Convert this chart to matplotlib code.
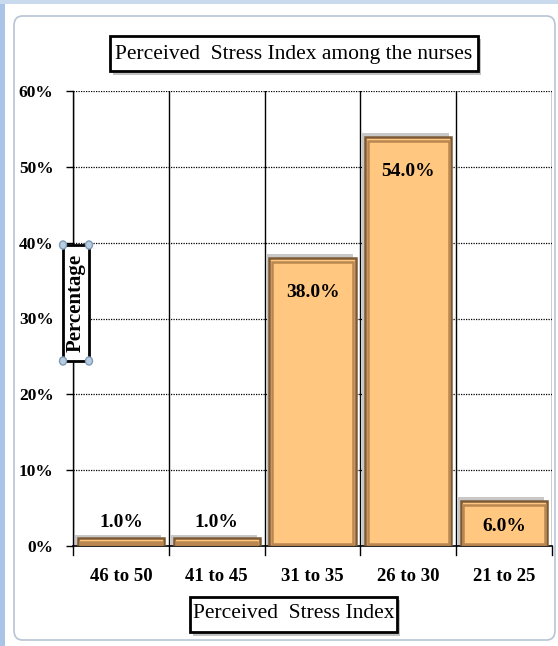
import matplotlib.pyplot as plt
from matplotlib.patches import FancyBboxPatch, Rectangle

# data
categories = ['46 to 50', '41 to 45', '31 to 35', '26 to 30', '21 to 25']
percent = [1.0, 1.0, 38.0, 54.0, 6.0]
y_ticks = [0, 10, 20, 30, 40, 50, 60]

plt.rcParams['font.family'] = ['Liberation Serif', 'DejaVu Serif']

W, H = 558, 646
fig = plt.figure(figsize=(W / 100, H / 100), dpi=100)


def px_rect(x0, y0, x1, y1, **kw):
    # rectangle given in pixel coords (origin top-left)
    r = Rectangle((x0 / W, 1 - y1 / H), (x1 - x0) / W, (y1 - y0) / H,
                  transform=fig.transFigure, **kw)
    fig.patches.append(r)
    return r


# outer chart frame
fig.patches.append(FancyBboxPatch((14 / W, 6 / H), (W - 17) / W, (H - 22) / H,
                                  boxstyle='round,pad=0,rounding_size=0.015',
                                  transform=fig.transFigure, facecolor='white',
                                  edgecolor='#b8c4d4', linewidth=1.2,
                                  zorder=-10))
px_rect(0, 0, 5, H, facecolor='#a9c4e6', edgecolor='none', zorder=-9)
px_rect(0, 0, W, 4, facecolor='#c9d9ee', edgecolor='none', zorder=-9)

ax = fig.add_axes([73 / W, 1 - 546 / H, (552 - 73) / W, (546 - 91) / H])
ax.set_zorder(1)
x = list(range(len(categories)))

# bars with bevel look
ax.bar([i - 0.03 for i in x], [p + 0.5 for p in percent], width=0.9,
       color='#c8c8c8', edgecolor='none', zorder=2)
ax.bar(x, percent, width=0.9, color='#FFC780', edgecolor='#7d5a36',
       linewidth=1.8, zorder=3)
ax.bar(x, [max(p - 0.9, 0.25) for p in percent], width=0.85, bottom=0.3,
       color='none', edgecolor='#b9874f', linewidth=1.8, zorder=4)

for i, p in enumerate(percent):
    if p < 5:
        ax.text(i, p + 1.0, f'{p:.1f}%', ha='center', va='bottom',
                fontsize=14, fontweight='bold', zorder=5)
    elif p < 10:
        ax.text(i, p - 3.4, f'{p:.1f}%', ha='center', va='center',
                fontsize=14, fontweight='bold', zorder=5)
    else:
        ax.text(i, p - 4.6, f'{p:.1f}%', ha='center', va='center',
                fontsize=14, fontweight='bold', zorder=5)

ax.set_xlim(-0.5, len(categories) - 0.5)
ax.set_ylim(0, 60)
ax.set_yticks(y_ticks)
ax.set_yticklabels([f'{t}%' for t in y_ticks], fontsize=12.5, fontweight='bold')
ax.set_xticks(x)
ax.set_xticklabels(categories, fontsize=13.5, fontweight='bold')
ax.tick_params(axis='x', length=0, pad=16)
ax.tick_params(axis='y', length=5, width=1, pad=9, direction='out')

# grid: dotted horizontal, solid vertical boundaries
for t in y_ticks[1:]:
    ax.axhline(t, color='black', linestyle=(0, (1, 1)), linewidth=0.9, zorder=1)
for b in range(len(categories) + 1):
    ax.axvline(b - 0.5, color='black', linewidth=1.0, zorder=1)
    ax.plot([b - 0.5, b - 0.5], [0, -1.2], color='black', linewidth=1.0,
            clip_on=False)
for s in ['top', 'right']:
    ax.spines[s].set_visible(False)
ax.spines['left'].set_linewidth(1.0)
ax.spines['bottom'].set_linewidth(1.2)

# title box
px_rect(113, 39, 481, 75, facecolor='#9a9a9a', edgecolor='none', alpha=0.6,
        zorder=4)
px_rect(110, 36, 478, 71, facecolor='white', edgecolor='black', linewidth=2,
        zorder=5)
fig.text(294 / W, 1 - 54 / H, 'Perceived  Stress Index among the nurses',
         ha='center', va='center', fontsize=15.5, zorder=6)

# x-axis title box
px_rect(193, 600, 400, 636, facecolor='#9a9a9a', edgecolor='none', alpha=0.6,
        zorder=4)
px_rect(190, 597, 397, 632, facecolor='white', edgecolor='black', linewidth=2,
        zorder=5)
fig.text(293.5 / W, 1 - 614 / H, 'Perceived  Stress Index', ha='center',
         va='center', fontsize=15.5, zorder=6)

# y-axis title box with selection handles
px_rect(63, 245, 89, 361, facecolor='white', edgecolor='black', linewidth=2,
        zorder=5)
fig.text(76 / W, 1 - 303 / H, 'Percentage', ha='center', va='center',
         rotation=90, fontsize=15, fontweight='bold', zorder=6)
for hx, hy in [(63, 245), (89, 245), (63, 361), (89, 361)]:
    fig.add_artist(plt.Circle((hx / W, 1 - hy / H), 3.5 / W,
                              transform=fig.transFigure, facecolor='#b8cde0',
                              edgecolor='#7e9bb5', linewidth=1, zorder=7))

fig.savefig('out.png', dpi=100)
